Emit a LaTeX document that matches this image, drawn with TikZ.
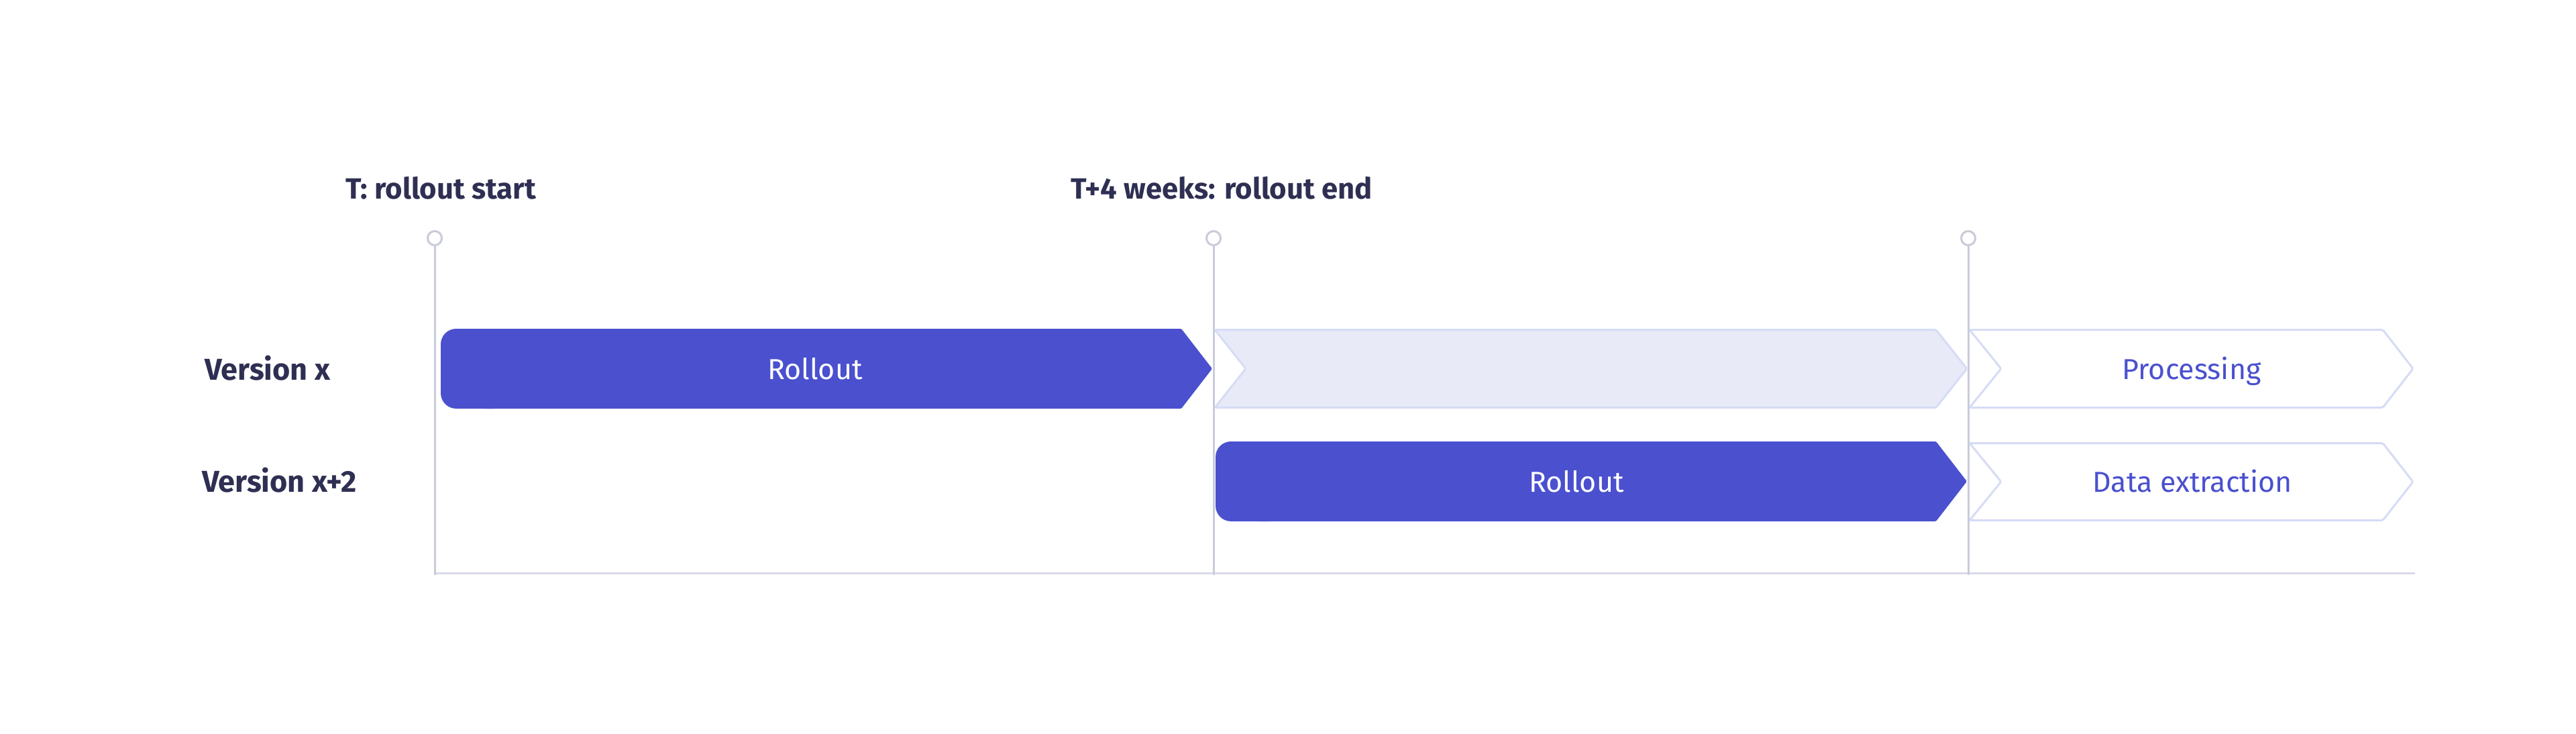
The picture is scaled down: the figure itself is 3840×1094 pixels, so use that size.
\documentclass[tikz,border=0pt]{standalone}
\usepackage{fontspec}
\setmainfont{Fira Sans}
\definecolor{barblue}{HTML}{4A50CE}
\definecolor{inkdark}{HTML}{2E2F52}
\definecolor{tickgrey}{HTML}{C9CBDA}
\definecolor{axisgrey}{HTML}{D9DAE6}
\definecolor{paleline}{HTML}{D6DCF5}
\definecolor{palefill}{HTML}{E8EAF8}
\begin{document}
\begin{tikzpicture}[x=1pt,y=-1pt,
  headtext/.style={font=\fontsize{43.6}{50}\selectfont\bfseries, text=inkdark, anchor=base, inner sep=0pt},
  rowlabel/.style={font=\fontsize{45}{52}\selectfont\bfseries, text=inkdark, inner sep=0pt, anchor=base west},
  bartext/.style={font=\fontsize{43}{50}\selectfont, anchor=base, inner sep=0pt},
  ontext/.style={bartext, text=white},
  offtext/.style={bartext, text=barblue},
  tickmark/.style={circle, draw=tickgrey, line width=3pt, fill=white, minimum size=21pt, inner sep=0pt},
  gridline/.style={draw=tickgrey, line width=3pt},
  axisline/.style={draw=axisgrey, line width=3pt},
  solidbar/.style={fill=barblue},
  palebar/.style={draw=paleline, fill=palefill, line width=3pt, rounded corners=2pt, line join=round},
  openbar/.style={draw=paleline, fill=white, line width=3pt, rounded corners=2pt, line join=round}
]
\useasboundingbox (0,0) rectangle (3840,1094);
\fill[white] (0,0) rectangle (3840,1094);

% bars, row 1
\fill[solidbar, rounded corners=23pt] (657,490) rectangle (760,609);
\fill[solidbar, rounded corners=1.5pt] (720,490) -- (1761,490) -- (1807,549.5) -- (1761,609) -- (720,609) -- cycle;
\path[palebar] (1811,491.5) -- (2886,491.5) -- (2932,549.5) -- (2886,607.5) -- (1811,607.5) -- (1857,549.5) -- cycle;
\path[openbar] (2936,491.5) -- (3552,491.5) -- (3597,549.5) -- (3552,607.5) -- (2936,607.5) -- (2983,549.5) -- cycle;

% bars, row 2
\fill[solidbar, rounded corners=23pt] (1812,658) rectangle (1915,777);
\fill[solidbar, rounded corners=1.5pt] (1875,658) -- (2886,658) -- (2932,717.5) -- (2886,777) -- (1875,777) -- cycle;
\path[openbar] (2936,660.5) -- (3552,660.5) -- (3597,718) -- (3552,775.5) -- (2936,775.5) -- (2983,718) -- cycle;

% timeline
\coordinate (ax0) at (648,854);
\coordinate (ax1) at (3600,854);
\draw[axisline] (ax0) -- (ax1);
\node[tickmark] (t0) at (648,355) {};
\node[tickmark] (t1) at (1809,355) {};
\node[tickmark] (t2) at (2934,355) {};
\coordinate (f0) at (648,857);
\coordinate (f1) at (1809,857);
\coordinate (f2) at (2934,857);
\draw[gridline] (t0.south) -- (f0);
\draw[gridline] (t1.south) -- (f1);
\draw[gridline] (t2.south) -- (f2);

% texts
\node[headtext] (h0) at (657.5,296) {T: rollout start};
\node[headtext] (h1) at (1821,296) {T+4 weeks: rollout end};
\node[rowlabel] (r0) at (305,566) {Version x};
\node[rowlabel] (r1) at (301,733) {Version x+2};
\node[ontext] (l0) at (1215,565) {Rollout};
\node[ontext] (l1) at (2350,733) {Rollout};
\node[offtext] (l2) at (3267,565) {Processing};
\node[offtext] (l3) at (3268,733) {Data extraction};
\end{tikzpicture}
\end{document}
